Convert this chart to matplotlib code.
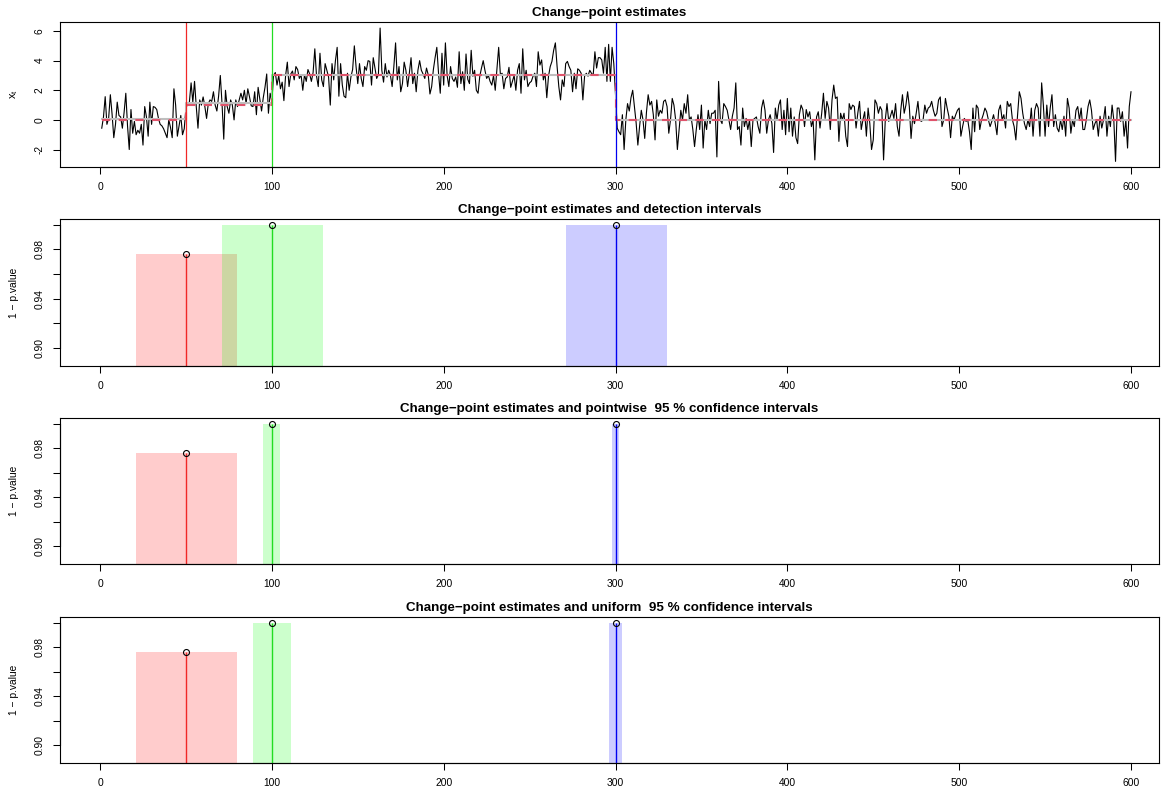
import numpy as np
import matplotlib
matplotlib.use('Agg')
import matplotlib.pyplot as plt

plt.rcParams['font.family'] = ['Liberation Sans', 'DejaVu Sans']
plt.rcParams['mathtext.fontset'] = 'custom'
plt.rcParams['mathtext.rm'] = 'Liberation Sans'

# ---------------- data ----------------
seg_a = [-0.56, 0.20, 1.57, -0.30, 0.10, 1.70, 0.40, -1.20, -0.30, 1.20,
         0.30, 0.20, -0.56, 0.50, 1.80, -0.40, -2.00, 0.70, -0.90, -0.10,
         -1.00, -0.70, -0.90, -0.30, -1.70, 0.90, 0.20, -1.10, 1.20, -0.30,
         0.90, 0.85, 0.70, 0.10, -0.30, -0.40, -0.60, -0.90, -1.20, 0.00,
         -0.50, -1.20, 2.10, 1.00, -1.10, -0.40, 0.30, -1.00, -0.60, 0.80]
seg_b = [1.10, 1.20, 2.50, 1.20, 2.60, 0.90, -0.56, 1.35, 1.00, 1.55,
         0.90, 0.10, 1.10, 1.35, 1.25, 1.90, 1.00, 0.60, 1.60, 3.00,
         1.10, -1.30, 2.00, 0.90, 0.45, 1.35, 1.00, 0.00, 1.35, 0.90,
         1.35, 1.80, 1.35, 2.00, 1.10, 2.10, 1.55, 0.95, 0.90, 1.90,
         0.35, 2.20, 1.40, 0.60, 1.50, 2.20, 3.10, 0.45, 1.80, 1.25]
seg_c = [3.00, 3.20, 2.35, 3.00, 2.10, 2.55, 1.30, 3.00, 3.90, 2.25,
         3.10, 3.30, 2.70, 3.60, 3.40, 2.80, 3.05, 2.00, 3.05, 2.60,
         3.40, 3.10, 2.60, 3.20, 4.80, 2.95, 2.25, 4.50, 2.70, 2.25,
         3.80, 3.35, 2.90, 1.00, 3.80, 2.70, 4.00, 4.90, 1.60, 3.80,
         2.35, 1.60, 1.50, 3.15, 2.00, 2.90, 3.40, 5.00, 3.60, 2.45,
         3.80, 2.80, 2.25, 3.60, 3.35, 4.00, 3.95, 2.35, 4.20, 3.50,
         2.80, 3.05, 6.20, 3.35, 2.55, 3.80, 2.90, 3.35, 3.00, 2.25,
         3.60, 5.20, 2.70, 3.60, 1.90, 2.45, 3.90, 3.35, 2.25, 3.15,
         4.20, 2.45, 3.15, 1.90, 3.35, 4.00, 3.35, 3.10, 2.80, 3.50,
         3.05, 1.75, 2.25, 3.40, 4.20, 4.90, 3.15, 1.80, 4.50, 2.35,
         5.20, 3.00, 2.25, 3.60, 2.80, 2.60, 2.90, 2.20, 4.60, 2.45,
         3.25, 2.00, 4.45, 2.75, 2.45, 4.70, 2.95, 3.35, 2.00, 1.80,
         2.95, 3.50, 4.00, 3.35, 2.80, 3.00, 2.60, 2.35, 3.00, 2.00,
         3.45, 4.90, 3.05, 3.15, 2.10, 2.80, 2.90, 3.55, 2.20, 2.60,
         3.00, 2.00, 3.35, 3.80, 1.80, 4.80, 2.70, 3.35, 2.25, 2.50,
         2.60, 2.95, 3.15, 2.25, 4.60, 3.70, 4.05, 2.70, 3.15, 1.50,
         2.95, 3.60, 3.95, 4.70, 5.20, 3.60, 2.25, 1.35, 2.70, 2.25,
         3.80, 3.95, 3.60, 3.35, 1.90, 3.15, 2.10, 3.45, 3.35, 3.15,
         1.35, 2.95, 3.15, 2.95, 3.35, 3.15, 3.00, 4.60, 3.50, 4.20,
         4.20, 4.05, 3.15, 4.90, 2.60, 5.10, 2.60, 4.90, 3.80, 1.70]
seg_d = [-0.56, -0.80, -1.00, 0.35, -2.00, 0.00, 1.10, 0.60, 1.50, 2.00,
         0.90, -0.20, -1.70, -0.45, 0.65, 0.00, -1.25, 0.50, 1.70, 1.00,
         1.25, 0.35, -1.35, 1.35, 0.25, 0.65, 0.45, 1.25, 1.35, 0.90,
         -0.90, 0.00, 1.45, 1.00, 0.00, -2.00, -0.65, 0.65, 0.00, 1.10,
         0.45, 1.70, 0.00, 0.20, -0.65, -1.80, -0.65, 0.35, -0.65, 1.00,
         -1.90, 0.00, -0.65, 0.65, -0.25, 0.45, 0.45, 0.65, -2.50, 2.60,
         0.00, -0.25, 1.10, 0.90, 0.65, 0.00, -0.65, 0.25, 0.80, 2.50,
         -0.65, -0.45, -1.70, 0.80, -0.45, 0.10, -0.65, 0.00, -1.80, 0.00,
         0.10, 0.20, -0.45, -0.90, 0.80, 1.35, 0.65, -0.90, 0.00, 0.35,
         -0.25, -2.20, 0.80, 0.00, 1.00, 1.35, -0.65, 0.65, -1.00, 1.45,
         -0.80, 0.80, -1.10, 0.20, -1.20, -1.60, 0.35, 1.00, 0.70, -0.45,
         0.70, 0.20, 0.55, -0.45, 0.00, -2.70, 0.20, 0.55, -0.55, 0.45,
         1.80, 0.10, 1.25, 0.80, -0.65, 1.35, 2.35, 1.45, 1.55, -1.45,
         0.45, 0.00, 0.45, -1.10, -1.80, 1.10, 0.70, 1.00, 0.90, -0.55,
         0.45, 1.25, -0.65, 0.00, 0.55, -1.10, 0.80, -0.25, -2.00, -1.35,
         1.35, 1.10, 0.45, 0.90, 0.65, -2.70, 0.00, 1.10, -0.10, 0.25,
         0.65, 0.10, 1.10, -0.45, -1.10, 0.65, 1.70, 0.45, 1.00, 1.90,
         0.90, -1.25, 0.25, -0.25, 0.45, 1.25, 0.00, -0.10, 0.00, 1.00,
         0.45, 0.80, 0.90, 1.25, 0.65, 0.25, 0.45, 1.35, 1.55, -0.45,
         0.00, 1.45, 0.80, 0.25, -1.20, 0.25, 0.00, 0.35, 0.65, 0.80,
         -1.10, -0.45, 0.10, -0.10, 0.00, -0.80, -2.00, 0.80, -0.80, 1.00,
         0.80, -0.65, 0.00, 0.35, 0.80, 0.55, 0.00, -0.45, -0.10, 0.35,
         -0.25, -1.00, 0.65, 1.00, 0.00, 0.35, -0.55, 1.25, 0.90, 1.10,
         0.00, -0.45, -1.35, 0.35, 1.90, 1.45, 0.45, -0.25, -0.65, 0.00,
         -0.45, 0.80, -1.10, 0.65, 1.10, 0.80, -1.10, 2.50, 1.00, -1.10,
         1.00, -0.45, 0.80, 1.70, -0.45, 0.35, -0.55, -0.80, 0.00, -0.65,
         0.25, -1.10, 1.45, 0.80, -0.90, 0.00, -0.45, 0.65, 0.90, 0.00,
         0.80, -0.65, -0.65, 0.00, 0.90, 1.35, 0.65, -0.65, -0.25, 0.00,
         -1.10, 0.25, -0.55, 0.00, 0.90, -1.10, 0.25, -0.45, 1.00, 0.00,
         -2.80, 0.80, 0.80, -0.10, 0.55, -1.10, 0.00, -1.90, 0.90, 1.90]

segment_edges = [1, 50, 100, 300, 600]
true_levels = [0.0, 1.0, 3.0, 0.0]
est_levels = [0.03, 1.15, 3.02, 0.02]

cps = [50, 100, 300]
one_minus_p = [0.9765, 0.9999, 1.0]
line_colors = ['#F02828', '#22DD22', '#0000F0']
fill_colors = ['#FF0000', '#00FF00', '#0000FF']

det_lo = [21, 71, 271]
det_hi = [80, 130, 330]
pw_lo = [21, 95, 298]
pw_hi = [80, 105, 302]
un_lo = [21, 89, 296]
un_hi = [80, 111, 304]

titles = ['Change\u2212point estimates',
          'Change\u2212point estimates and detection intervals',
          'Change\u2212point estimates and pointwise  95 % confidence intervals',
          'Change\u2212point estimates and uniform  95 % confidence intervals']

x_ticks = [0, 100, 200, 300, 400, 500, 600]
y_ticks_top = [-2, 0, 2, 4, 6]
y_ticks_p = [0.90, 0.92, 0.94, 0.96, 0.98, 1.00]
y_ticklabels_p = ['0.90', '', '0.94', '', '0.98', '']

# ---------------- figure ----------------
W, H = 1176, 794
fig = plt.figure(figsize=(W / 100, H / 100), dpi=100)

def add_ax(top_px, bot_px):
    return fig.add_axes([60 / W, 1 - bot_px / H, (1159 - 60) / W, (bot_px - top_px) / H])

panels = [(22, 167), (219, 366), (418, 564), (617, 763)]
axes = [add_ax(*p) for p in panels]
xlim = (-23.3, 616.3)
FS = 7.4

def style(ax, yt, ylabels, ylim):
    ax.set_xlim(*xlim)
    ax.set_ylim(*ylim)
    ax.set_xticks(x_ticks)
    ax.set_xticklabels([str(v) for v in x_ticks])
    ax.set_yticks(yt)
    ax.set_yticklabels(ylabels)
    ax.tick_params(direction='out', length=5, width=0.75, labelsize=FS, pad=6)
    ax.tick_params(axis='y', labelrotation=90)
    for lab in ax.get_yticklabels():
        lab.set_va('center')
    for s in ax.spines.values():
        s.set_linewidth(0.8)
    ax.plot([x_ticks[0], x_ticks[-1]], [ylim[0], ylim[0]], color='black', lw=0.8, clip_on=False)
    ax.plot([xlim[0], xlim[0]], [yt[0], yt[-1]], color='black', lw=0.8, clip_on=False)

# Panel 1
ax = axes[0]
series = np.array(seg_a + seg_b + seg_c + seg_d)
t = np.arange(1, len(series) + 1)
ax.plot(t, series, color='black', lw=0.8)
ax.plot(segment_edges, est_levels + [est_levels[-1]], drawstyle='steps-post',
        color='#BEBEBE', lw=1.5)
ax.plot(segment_edges, true_levels + [true_levels[-1]], drawstyle='steps-post',
        color='#DF536B', lw=1.5, dashes=(4, 4))
for cp, c in zip(cps, line_colors):
    ax.axvline(cp, color=c, lw=0.9)
style(ax, y_ticks_top, [str(v) for v in y_ticks_top], (-3.18, 6.61))
ax.set_title(titles[0], fontsize=9.6, fontweight='bold', pad=4)
fig.text(14 / W, 1 - 94.5 / H, r'$\mathregular{x_t}$', rotation=90, ha='center', va='center', fontsize=FS + 0.5)

# Lower panels
intervals = [(det_lo, det_hi), (pw_lo, pw_hi), (un_lo, un_hi)]
for k, (lo, hi) in enumerate(intervals):
    ax = axes[k + 1]
    for a, b, p, fc in zip(lo, hi, one_minus_p, fill_colors):
        ax.bar(a, p, width=b - a, bottom=0, align='edge', color=fc, alpha=0.2, lw=0)
    ax.vlines(cps, 0, one_minus_p, colors=line_colors, lw=1.0)
    ax.plot(cps, one_minus_p, 'o', mfc='none', mec='black', ms=4.3, mew=0.8, clip_on=False)
    style(ax, y_ticks_p, y_ticklabels_p, (0.8855, 1.0047))
    ax.set_title(titles[k + 1], fontsize=9.6, fontweight='bold', pad=4)
    top_px, bot_px = panels[k + 1]
    fig.text(14 / W, 1 - (top_px + bot_px) / 2 / H, '1 \u2212 p.value', rotation=90,
             ha='center', va='center', fontsize=FS)

fig.savefig('out.png', dpi=100)
